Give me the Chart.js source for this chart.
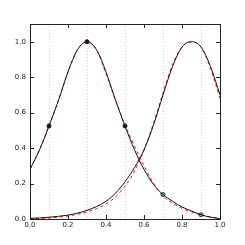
<!DOCTYPE html>
<html>
<head>
<meta charset="utf-8">
<script src="https://cdn.jsdelivr.net/npm/chart.js@4/dist/chart.umd.min.js"></script>
<style>
	html, body { margin: 0; padding: 0; background: #fff; }
	#wrap { width: 245px; height: 245px; }
</style>
</head>
<body>
<div id="wrap"><canvas id="c" width="245" height="245"></canvas></div>
<script>
// sample positions along x
var xs = [0, 0.05, 0.1, 0.15, 0.2, 0.25, 0.3, 0.35, 0.4, 0.45, 0.5, 0.55, 0.6, 0.65, 0.7, 0.75, 0.8, 0.85, 0.9, 0.95, 1.0];

// black solid curves
var curveA = [0.28, 0.39, 0.525, 0.67, 0.83, 0.955, 1.0, 0.955, 0.83, 0.67, 0.525, 0.39, 0.28, 0.195, 0.138, 0.10, 0.068, 0.045, 0.024, 0.01, 0.002];
var curveB = [0.003, 0.006, 0.01, 0.015, 0.022, 0.033, 0.049, 0.07, 0.10, 0.145, 0.21, 0.29, 0.39, 0.53, 0.70, 0.86, 0.97, 1.0, 0.97, 0.86, 0.70];

// red dashed approximations
var fitA = [0.28, 0.39, 0.525, 0.67, 0.83, 0.955, 1.0, 0.955, 0.82, 0.67, 0.53, 0.41, 0.30, 0.20, 0.13, 0.09, 0.06, 0.04, 0.024, 0.012, 0.004];
var fitB = [0.0, 0.003, 0.006, 0.01, 0.017, 0.027, 0.04, 0.058, 0.085, 0.125, 0.185, 0.27, 0.39, 0.54, 0.71, 0.87, 0.97, 1.0, 0.97, 0.85, 0.68];

// sampled points on curve A
var filledX = [0.1, 0.3, 0.5];
var filledY = [0.525, 1.0, 0.525];
var openX = [0.7, 0.9];
var openY = [0.138, 0.024];

var tickVals = [0, 0.2, 0.4, 0.6, 0.8, 1.0];
var gridX = [0.1, 0.3, 0.5, 0.7, 0.9];

var pts = function(xv, yv){
	var out = [];
	for (var i = 0; i < xv.length; i++) out.push({x: xv[i], y: yv[i]});
	return out;
};

var frame = {
	id: 'frame',
	beforeDatasetsDraw: function(chart){
		var ctx = chart.ctx, a = chart.chartArea, sx = chart.scales.x;
		ctx.save();
		ctx.strokeStyle = '#d0d0d0';
		ctx.lineWidth = 1;
		ctx.setLineDash([1, 2]);
		gridX.forEach(function(v){
			var p = Math.round(sx.getPixelForValue(v)) + 0.5;
			ctx.beginPath(); ctx.moveTo(p, a.top); ctx.lineTo(p, a.bottom); ctx.stroke();
		});
		ctx.restore();
	},
	afterDatasetsDraw: function(chart){
		var ctx = chart.ctx, a = chart.chartArea, sx = chart.scales.x, sy = chart.scales.y;
		ctx.save();
		ctx.strokeStyle = '#222';
		ctx.lineWidth = 1;
		ctx.setLineDash([]);
		ctx.strokeRect(Math.round(a.left) + 0.5, Math.round(a.top) + 0.5, Math.round(a.right - a.left), Math.round(a.bottom - a.top));
		var len = 4;
		tickVals.forEach(function(v){
			var px = Math.round(sx.getPixelForValue(v)) + 0.5;
			ctx.beginPath();
			ctx.moveTo(px, a.bottom); ctx.lineTo(px, a.bottom - len);
			ctx.moveTo(px, a.top); ctx.lineTo(px, a.top + len);
			ctx.stroke();
			var py = Math.round(sy.getPixelForValue(v)) + 0.5;
			ctx.beginPath();
			ctx.moveTo(a.left, py); ctx.lineTo(a.left + len, py);
			ctx.moveTo(a.right, py); ctx.lineTo(a.right - len, py);
			ctx.stroke();
		});
		ctx.restore();
	}
};

var lineSet = function(yv, color, dash){
	return {
		type: 'line',
		data: pts(xs, yv),
		borderColor: color,
		borderWidth: 1,
		borderDash: dash,
		pointRadius: 0,
		fill: false,
		cubicInterpolationMode: 'monotone'
	};
};

new Chart(document.getElementById('c'), {
	type: 'line',
	data: {
		datasets: [
			lineSet(curveA, '#111', []),
			lineSet(curveB, '#111', []),
			lineSet(fitA, '#ff0000', [3, 3]),
			lineSet(fitB, '#ff0000', [3, 3]),
			{
				type: 'scatter',
				data: pts(filledX, filledY),
				pointRadius: 2,
				backgroundColor: '#222',
				borderColor: '#111',
				borderWidth: 1
			},
			{
				type: 'scatter',
				data: pts(openX, openY),
				pointRadius: 2,
				backgroundColor: '#aaa',
				borderColor: '#333',
				borderWidth: 1
			}
		]
	},
	options: {
		responsive: false,
		animation: false,
		layout: { padding: { left: 0, top: 24, right: 25, bottom: 0 } },
		plugins: { legend: { display: false }, tooltip: { enabled: false } },
		scales: {
			x: {
				type: 'linear', min: 0, max: 1,
				grid: { display: false, drawTicks: false },
				border: { display: false },
				afterBuildTicks: function(s){ s.ticks = tickVals.map(function(v){ return {value: v}; }); },
				afterFit: function(s){ s.height = 26; },
				ticks: {
					padding: 2, color: '#222', maxRotation: 0,
					font: { family: 'DejaVu Sans', size: 7 },
					callback: function(v){ return v.toFixed(1); }
				}
			},
			y: {
				type: 'linear', min: 0, max: 1.1,
				grid: { display: false, drawTicks: false },
				border: { display: false },
				afterBuildTicks: function(s){ s.ticks = tickVals.map(function(v){ return {value: v}; }); },
				afterFit: function(s){ s.width = 30; },
				ticks: {
					padding: 4, color: '#222',
					font: { family: 'DejaVu Sans', size: 7 },
					callback: function(v){ return v.toFixed(1); }
				}
			}
		}
	},
	plugins: [frame]
});
</script>
</body>
</html>
